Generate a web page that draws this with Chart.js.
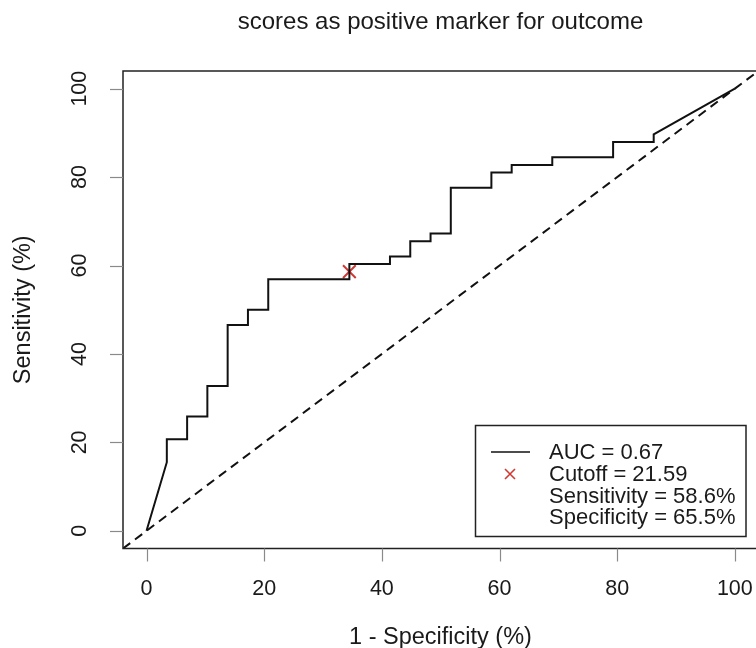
<!DOCTYPE html>
<html>
<head>
<meta charset="utf-8">
<script src="https://cdn.jsdelivr.net/npm/chart.js@4/dist/chart.umd.min.js"></script>
<style>
  html, body { margin: 0; padding: 0; background: #ffffff; }
  #c { display: block; }
</style>
</head>
<body>
<canvas id="c" width="756" height="648"></canvas>
<script>
// ---- data (percent) ----
const fprValues = [0, 3.45, 3.45, 6.90, 6.90, 10.34, 10.34, 13.79, 13.79, 17.24, 17.24, 20.69, 20.69, 34.48, 34.48, 41.38, 41.38, 44.83, 44.83, 48.28, 48.28, 51.72, 51.72, 58.62, 58.62, 62.07, 62.07, 68.97, 68.97, 79.31, 79.31, 86.21, 86.21, 100];
const tprValues = [0, 15.52, 20.69, 20.69, 25.86, 25.86, 32.76, 32.76, 46.55, 46.55, 50.00, 50.00, 56.90, 56.90, 60.34, 60.34, 62.07, 62.07, 65.52, 65.52, 67.24, 67.24, 77.59, 77.59, 81.03, 81.03, 82.76, 82.76, 84.48, 84.48, 87.93, 87.93, 89.66, 100];
const refLineX = [-4, 104];
const refLineY = [-4, 104];
const cutoffX = [34.48];
const cutoffY = [58.62];
const xTicks = [0, 20, 40, 60, 80, 100];
const yTicks = [0, 20, 40, 60, 80, 100];
const chartTitle = "scores as positive marker for outcome";
const xTitle = "1 - Specificity (%)";
const yTitle = "Sensitivity (%)";
const legendLabels = ["AUC = 0.67", "Cutoff = 21.59", "Sensitivity = 58.6%", "Specificity = 65.5%"];

const FONT = '"Liberation Sans", Arial, Helvetica, sans-serif';
const TXT = '#1a1a1a';
const RED = '#d03a36';

const toPts = (xs, ys) => xs.map((x, i) => ({ x: x, y: ys[i] }));

const decor = {
  id: 'decor',
  afterDraw(chart) {
    const ctx = chart.ctx;
    const a = chart.chartArea;
    const xs = chart.scales.x, ys = chart.scales.y;
    ctx.save();
    // box
    ctx.strokeStyle = '#222';
    ctx.lineWidth = 1.5;
    ctx.beginPath();
    ctx.rect(a.left, a.top, a.right - a.left + 3, a.bottom - a.top);
    ctx.stroke();
    // ticks
    ctx.strokeStyle = '#8a8a8a';
    ctx.lineWidth = 1.2;
    xTicks.forEach(v => {
      const px = Math.round(xs.getPixelForValue(v)) + 0.5;
      ctx.beginPath(); ctx.moveTo(px, a.bottom); ctx.lineTo(px, a.bottom + 13); ctx.stroke();
    });
    yTicks.forEach(v => {
      const py = Math.round(ys.getPixelForValue(v)) + 0.5;
      ctx.beginPath(); ctx.moveTo(a.left, py); ctx.lineTo(a.left - 13, py); ctx.stroke();
    });
    // tick labels
    ctx.fillStyle = TXT;
    ctx.font = '21.5px ' + FONT;
    ctx.textAlign = 'center';
    ctx.textBaseline = 'alphabetic';
    xTicks.forEach(v => {
      ctx.fillText(String(v), xs.getPixelForValue(v), 595);
    });
    yTicks.forEach(v => {
      ctx.save();
      ctx.translate(86, ys.getPixelForValue(v));
      ctx.rotate(-Math.PI / 2);
      ctx.fillText(String(v), 0, 0);
      ctx.restore();
    });
    // titles
    const cx = (a.left + 758) / 2;
    ctx.font = '24px ' + FONT;
    ctx.fillText(chartTitle, cx, 29);
    ctx.font = '23.5px ' + FONT;
    ctx.fillText(xTitle, cx, 644);
    ctx.save();
    ctx.translate(30, (a.top + a.bottom) / 2);
    ctx.rotate(-Math.PI / 2);
    ctx.fillText(yTitle, 0, 0);
    ctx.restore();
    // legend
    const lx = 475.5, ly = 425.5, lw = 270.5, lh = 111;
    ctx.fillStyle = '#ffffff';
    ctx.fillRect(lx, ly, lw, lh);
    ctx.strokeStyle = '#222';
    ctx.lineWidth = 1.5;
    ctx.strokeRect(lx, ly, lw, lh);
    const rows = [452, 474, 496, 517];
    ctx.strokeStyle = '#111';
    ctx.lineWidth = 1.5;
    ctx.beginPath(); ctx.moveTo(491, rows[0]); ctx.lineTo(530, rows[0]); ctx.stroke();
    ctx.strokeStyle = RED;
    ctx.lineWidth = 1.6;
    const mx = 510, my = rows[1], r = 5;
    ctx.beginPath();
    ctx.moveTo(mx - r, my - r); ctx.lineTo(mx + r, my + r);
    ctx.moveTo(mx - r, my + r); ctx.lineTo(mx + r, my - r);
    ctx.stroke();
    ctx.fillStyle = TXT;
    ctx.font = '22px ' + FONT;
    ctx.textAlign = 'left';
    ctx.textBaseline = 'middle';
    legendLabels.forEach((t, i) => ctx.fillText(t, 549, rows[i] + 1));
    ctx.restore();
  }
};

new Chart(document.getElementById('c'), {
  type: 'scatter',
  data: {
    datasets: [
      {
        data: toPts(refLineX, refLineY),
        showLine: true,
        borderColor: '#111',
        borderWidth: 2,
        borderDash: [9, 6],
        pointRadius: 0,
        fill: false
      },
      {
        data: toPts(fprValues, tprValues),
        showLine: true,
        borderColor: '#111',
        borderWidth: 2,
        pointRadius: 0,
        tension: 0,
        fill: false
      },
      {
        data: toPts(cutoffX, cutoffY),
        showLine: false,
        pointStyle: 'crossRot',
        pointRadius: 9,
        borderColor: RED,
        borderWidth: 2,
        backgroundColor: RED
      }
    ]
  },
  options: {
    responsive: false,
    animation: false,
    events: [],
    layout: { autoPadding: false, padding: { left: 123, top: 71, right: 0, bottom: 99.5 } },
    scales: {
      x: { type: 'linear', min: -4, max: 103.6, display: false },
      y: { type: 'linear', min: -4, max: 104, display: false }
    },
    plugins: {
      legend: { display: false },
      title: { display: false },
      tooltip: { enabled: false }
    }
  },
  plugins: [decor]
});
</script>
</body>
</html>
